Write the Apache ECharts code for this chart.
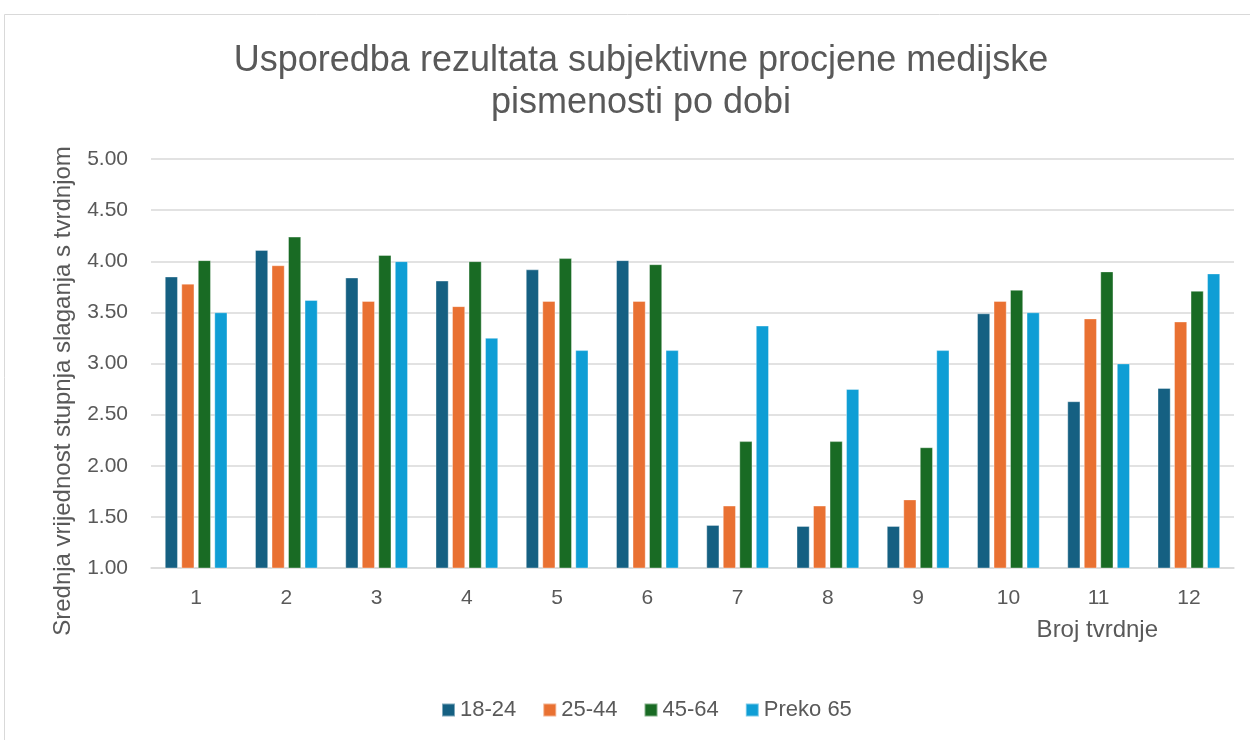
<!DOCTYPE html>
<html>
<head>
<meta charset="utf-8">
<script src="https://cdn.jsdelivr.net/npm/echarts@6/dist/echarts.min.js"></script>
<style>
  html, body { margin: 0; padding: 0; background: #fff; }
  #chart { width: 1250px; height: 740px; }
</style>
</head>
<body>
<div id="chart"></div>
<script>
// podaci
var tvrdnje = ['1', '2', '3', '4', '5', '6', '7', '8', '9', '10', '11', '12'];
var dob1824 = [3.85, 4.11, 3.84, 3.81, 3.92, 4.01, 1.42, 1.41, 1.41, 3.49, 2.63, 2.76];
var dob2544 = [3.78, 3.96, 3.61, 3.56, 3.61, 3.61, 1.61, 1.61, 1.67, 3.61, 3.44, 3.41];
var dob4564 = [4.01, 4.24, 4.06, 4.00, 4.03, 3.97, 2.24, 2.24, 2.18, 3.72, 3.90, 3.71];
var preko65 = [3.50, 3.62, 4.00, 3.25, 3.13, 3.13, 3.37, 2.75, 3.13, 3.50, 3.00, 3.88];
var nazivi = ['18-24', '25-44', '45-64', 'Preko 65'];

var boje = ['#156082', '#E97132', '#196B24', '#0F9ED5'];
var font = '"Liberation Sans", Arial, sans-serif';

var chart = echarts.init(document.getElementById('chart'));

function serija(ime, podaci) {
    return {
        name: ime,
        type: 'bar',
        data: podaci,
        barWidth: 13,
        barGap: '27%',
        itemStyle: { borderColor: 'rgba(255,255,255,0.45)', borderWidth: 0.8 }
    };
}

chart.setOption({
    animation: false,
    color: boje,
    textStyle: { fontFamily: font },
    title: {
        text: 'Usporedba rezultata subjektivne procjene medijske\npismenosti po dobi',
        left: 636,
        top: 35,
        textAlign: 'center',
        textStyle: { fontSize: 36, fontWeight: 'normal', color: '#595959', lineHeight: 42, fontFamily: font }
    },
    graphic: [{
        type: 'rect',
        shape: { x: 4.5, y: 14.5, width: 1260, height: 740 },
        style: { fill: 'none', stroke: '#d9d9d9', lineWidth: 1 },
        silent: true
    }],
    legend: {
        bottom: 14,
        left: 436,
        itemWidth: 13,
        itemHeight: 13,
        itemGap: 26,
        icon: 'rect',
        textStyle: { fontSize: 22, color: '#595959', fontFamily: font },
        data: nazivi
    },
    grid: { left: 151, right: 16, top: 159, bottom: 172, outerBoundsMode: 'none', containLabel: false },
    xAxis: {
        type: 'category',
        data: tvrdnje,
        name: 'Broj tvrdnje',
        nameLocation: 'end',
        nameGap: -76,
        nameMoveOverlap: false,
        nameTextStyle: { fontSize: 24, color: '#595959', align: 'right', verticalAlign: 'top', padding: [49, 0, 0, 0], lineHeight: 26 },
        axisLine: { lineStyle: { color: '#d9d9d9', width: 1.5 } },
        axisTick: { show: false },
        axisLabel: { fontSize: 21, color: '#595959', margin: 20 }
    },
    yAxis: {
        type: 'value',
        min: 1,
        max: 5,
        interval: 0.5,
        name: 'Srednja vrijednost stupnja slaganja s tvrdnjom',
        nameLocation: 'middle',
        nameGap: 76,
        nameTextStyle: { fontSize: 24, color: '#595959', padding: [0, 55, 0, 0] },
        axisLine: { show: false },
        axisTick: { show: false },
        splitLine: { lineStyle: { color: '#d9d9d9', width: 1.5 } },
        axisLabel: {
            fontSize: 21,
            color: '#595959',
            margin: 23,
            formatter: function (v) { return v.toFixed(2); }
        }
    },
    series: [
        serija(nazivi[0], dob1824),
        serija(nazivi[1], dob2544),
        serija(nazivi[2], dob4564),
        serija(nazivi[3], preko65)
    ]
});
</script>
</body>
</html>
